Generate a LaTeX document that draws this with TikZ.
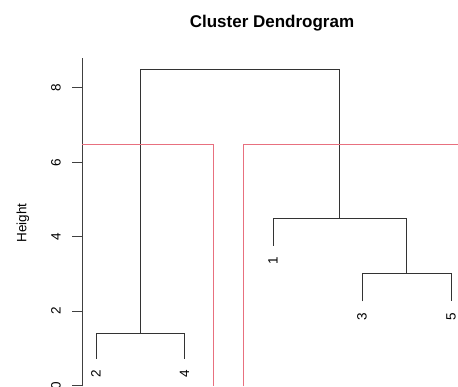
\documentclass[tikz,border=0pt]{standalone}
\usepackage{fontspec}
\setmainfont{Liberation Sans}
\definecolor{cutred}{HTML}{E8707F}
\tikzset{
  axislabels/.style={font=\fontsize{13.5}{14}\selectfont, rotate=90},
  leaflabels/.style={font=\fontsize{13.5}{14}\selectfont, rotate=90},
  axisline/.style={draw=black!75, line width=1pt},
  branch/.style={draw=black!80, line width=1pt},
  cutline/.style={draw=cutred, line width=1pt},
}

\begin{document}
\begin{tikzpicture}[
  x=1pt,
  y=37.22pt,
]
\useasboundingbox (0,-0.02) rectangle (458,10.36);

\node [font=\fontsize{17}{18}\selectfont\bfseries,
       name=title] at (272,9.74) {Cluster Dendrogram};

% height axis
\coordinate (axis-bot) at (82,-0.02);
\coordinate (axis-top) at (82,8.8);
\draw [axisline] (axis-bot) -- (axis-top);
\foreach \v in {0,2,...,8}
  {
   \coordinate (tick-\v) at (82,\v);
   \draw [axisline] (tick-\v) -- ++(-10,0);
   \node [axislabels, name=ticklabel-\v] at (56,\v) {\v};
  }
\node [axislabels, name=ylabel] at (23,4.37) {Height};

% leaves
\foreach \n/\x/\h in {2/96/0.72,
                      4/184.5/0.72,
                      1/273/3.76,
                      3/362/2.26,
                      5/451/2.26}
  {
   \coordinate (leaf-\n) at (\x,\h);
   \node [leaflabels, name=label-\n] at (\x,\h-0.41) {\n};
  }

% merges
\coordinate (m24) at (140.25,1.39);
\coordinate (m35) at (406.5,3.0);
\coordinate (m135) at (339.75,4.49);
\coordinate (mtop) at (240,8.5);

\draw [branch] (leaf-2) |- (m24) -| (leaf-4);
\draw [branch] (leaf-3) |- (m35) -| (leaf-5);
\draw [branch] (leaf-1) |- (m135) -| (m35);
\draw [branch] (m24) |- (mtop) -| (m135);

% cut at 6.5
\coordinate (cutL-a) at (82,6.49);
\coordinate (cutL-b) at (213.7,-0.02);
\coordinate (cutR-a) at (243,-0.02);
\coordinate (cutR-b) at (458,6.49);
\draw [cutline] (cutL-a) -| (cutL-b);
\draw [cutline] (cutR-a) |- (cutR-b);

\end{tikzpicture}
\end{document}
